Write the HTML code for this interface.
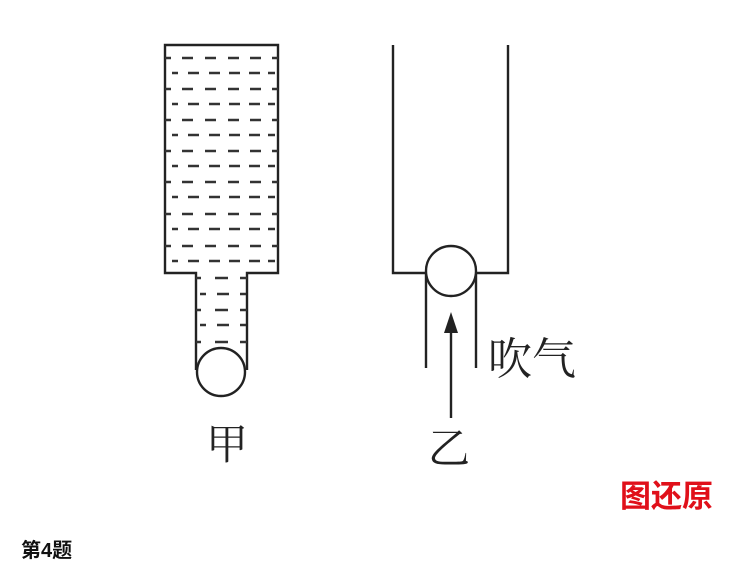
<!DOCTYPE html>
<html><head><meta charset="utf-8"><style>
html,body{margin:0;padding:0;background:#fff;width:755px;height:566px;overflow:hidden}
svg{position:absolute;left:0;top:0}
</style></head><body>
<svg width="755" height="566" viewBox="0 0 755 566" xmlns="http://www.w3.org/2000/svg">
<defs>
<path id="A" d="M165,0h6M182,0h11M205,0h11M228,0h11M250,0h11M272,0h6"/>
<path id="B" d="M172,0h6M188,0h11M209,0h11M229,0h11M249,0h11M268,0h7"/>
</defs>
<g fill="none" stroke="#222" stroke-width="2.4">
<path d="M196,370 L196,273 L165,273 L165,45 L278,45 L278,273 L247,273 L247,370"/>
<circle cx="221" cy="372" r="24" fill="#fff"/>
<path d="M393,45 L393,273 L426,273 M476,273 L508,273 L508,45"/>
<path d="M426,273 L426,368 M476,273 L476,368"/>
<circle cx="451" cy="271" r="25" fill="#fff"/>
<line x1="451" y1="418" x2="451" y2="325"/>
</g>
<polygon points="451,312 444,333 458,333" fill="#222"/>
<g stroke="#333" stroke-width="2.4">
<use href="#A" y="58"/><use href="#B" y="73"/><use href="#A" y="89"/><use href="#B" y="104"/>
<use href="#A" y="120"/><use href="#B" y="135"/><use href="#A" y="151"/><use href="#B" y="166"/>
<use href="#A" y="182"/><use href="#B" y="197"/><use href="#A" y="214"/><use href="#B" y="229"/>
<use href="#A" y="246"/><use href="#B" y="261"/>
<path d="M196,278h5M215,278h13M240,278h7M200,294h6M217,294h12M240,294h6M196,310h5M215,310h13M240,310h7M200,325h6M217,325h12M240,325h6M196,342h5M215,342h13M240,342h7"/>
</g>
<g font-family="'Liberation Sans','Noto Serif CJK SC','Noto Sans CJK SC',serif" fill="#222">
<text x="206" y="459" font-size="42">甲</text>
<text x="428" y="463" font-size="42">乙</text>
<text x="488" y="374" font-size="44">吹气</text>
</g>
<text x="620" y="507" font-size="31" font-weight="bold" fill="#e0101a" font-family="'Liberation Sans','Noto Sans CJK SC',sans-serif">图还原</text>
<text x="21" y="557" font-size="20" font-weight="bold" fill="#111" font-family="'Liberation Sans','Noto Sans CJK SC',sans-serif">第4题</text>
</svg>
</body></html>
